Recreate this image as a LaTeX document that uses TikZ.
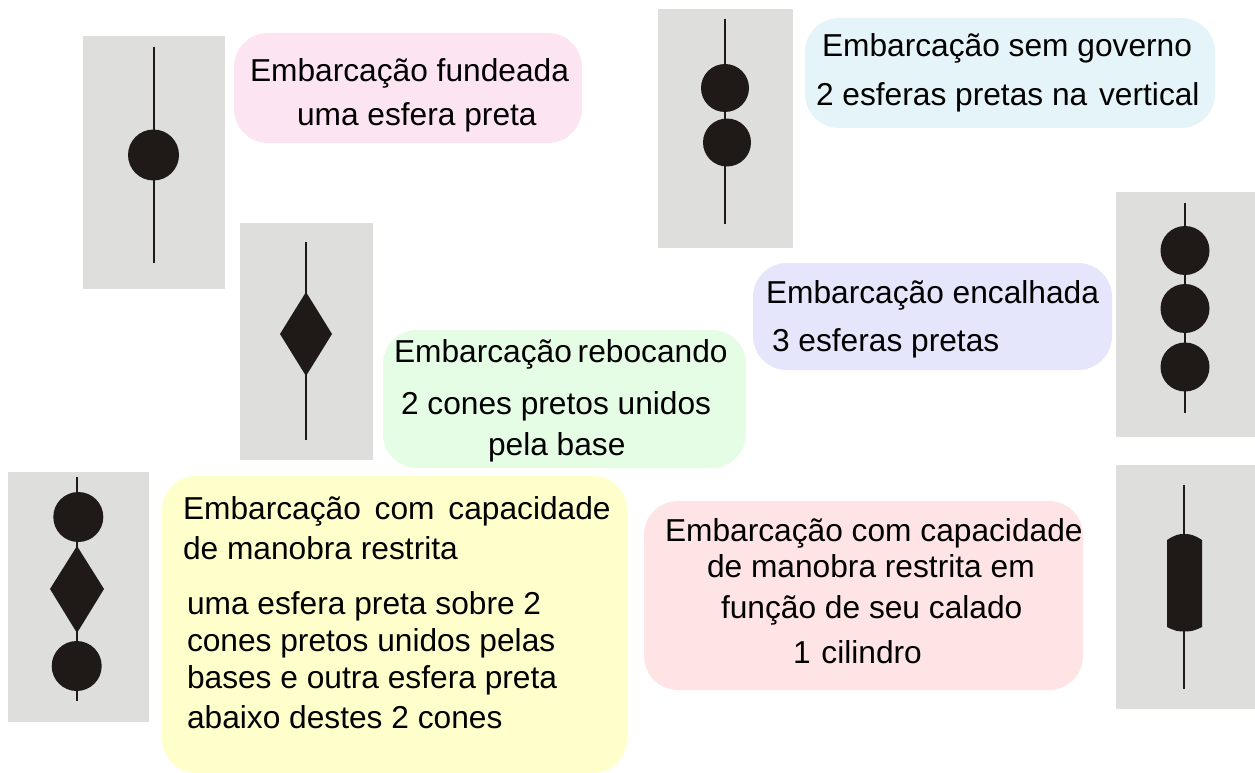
\documentclass[tikz,border=0pt]{standalone}
\usepackage{fontspec}
\setmainfont{Liberation Sans}
\definecolor{panelgray}{HTML}{DEDEDC}
\definecolor{ink}{HTML}{1F1A17}
\definecolor{bpink}{RGB}{253,228,242}
\definecolor{bcyan}{RGB}{228,244,249}
\definecolor{bviolet}{RGB}{229,229,251}
\definecolor{bgreen}{RGB}{229,252,229}
\definecolor{byellow}{RGB}{255,255,204}
\definecolor{brose}{RGB}{254,228,228}
\tikzset{
  x=1pt,y=-1pt,
  panel/.style={fill=panelgray,draw=none},
  bubble/.style={draw=none,rounded corners=34pt},
  mast/.style={draw=ink,line width=2pt},
  ballshape/.style={fill=ink,draw=none},
  txt/.style={anchor=base west,inner sep=0pt,outer sep=0pt,font=\fontsize{31.7}{34}\selectfont,text=black},
}
\begin{document}
\begin{tikzpicture}
\useasboundingbox (0,0) rectangle (1255,773);
% panels
\fill[panel] (83,36) rectangle (225,289);
\fill[panel] (658,9) rectangle (793,248);
\fill[panel] (240,223) rectangle (373,460);
\fill[panel] (1116,192) rectangle (1255,437);
\fill[panel] (8,472) rectangle (149,722);
\fill[panel] (1116,465) rectangle (1255,709);
% bubbles
\fill[bubble,fill=bpink] (234,33) rectangle (582,143);
\fill[bubble,fill=bcyan] (805,18) rectangle (1215,128);
\fill[bubble,fill=bviolet] (753,263) rectangle (1112,370);
\fill[bubble,fill=bgreen] (383,330) rectangle (746,468);
\fill[bubble,fill=byellow] (162,476) rectangle (627,773);
\fill[bubble,fill=brose] (644,501) rectangle (1083,690);
% symbol 1
\coordinate (a1) at (154,47); \coordinate (a2) at (154,263);
\draw[mast] (a1) -- (a2);
\fill[ballshape] (153.5,155) circle (25.5);
% symbol 2
\coordinate (b1) at (725,19); \coordinate (b2) at (725,224);
\draw[mast] (b1) -- (b2);
\fill[ballshape] (725,88) circle (24);
\fill[ballshape] (727,142.5) circle (24);
% symbol 3
\coordinate (c1) at (306,242); \coordinate (c2) at (306,440);
\draw[mast] (c1) -- (c2);
\fill[ballshape] (306,292) -- (332,334) -- (306,376) -- (280,334) -- cycle;
% symbol 4
\coordinate (d1) at (1185,203); \coordinate (d2) at (1185,413);
\draw[mast] (d1) -- (d2);
\fill[ballshape] (1185,250.5) circle (24.5);
\fill[ballshape] (1185,308.5) circle (24.5);
\fill[ballshape] (1185,367) circle (24.5);
% symbol 5
\coordinate (e1) at (77,477); \coordinate (e2) at (77,701);
\draw[mast] (e1) -- (e2);
\fill[ballshape] (78.3,517) circle (25);
\fill[ballshape] (77,546) -- (104,589) -- (77,633) -- (50,589) -- cycle;
\fill[ballshape] (76.7,666) circle (25);
% symbol 6
\coordinate (f1) at (1184,485); \coordinate (f2) at (1184,689);
\draw[mast] (f1) -- (f2);
\fill[ballshape] (1167,540) .. controls (1175,535) and (1178,534) .. (1184,534) .. controls (1191,534) and (1194,535) .. (1202,540) -- (1202,627) .. controls (1194,631) and (1191,631.5) .. (1184,631.5) .. controls (1178,631.5) and (1175,631) .. (1167,627) -- cycle;
% texts
\node[txt] (t1a) at (250,82) {Embarcação fundeada};
\node[txt] (t1b) at (297,126) {uma esfera preta};
\node[txt] (t2a) at (822,57) {Embarcação sem governo};
\node[txt] (t2b) at (816,106) {2 esferas pretas na\hspace{3pt} vertical};
\node[txt] (t3a) at (766,303) {Embarcação encalhada};
\node[txt] (t3b) at (772,351) {3 esferas pretas};
\node[txt] (t4a) at (394,362) {Embarcação\hspace{-3pt} rebocando};
\node[txt] (t4b) at (401,414) {2 cones pretos unidos};
\node[txt] (t4c) at (488,455) {pela base};
\node[txt] (t5a) at (183,519) {Embarcação\hspace{5pt} com\hspace{5pt} capacidade};
\node[txt] (t5b) at (183,559) {de manobra restrita};
\node[txt] (t5c) at (187,614) {uma esfera preta sobre 2};
\node[txt] (t5d) at (187,651) {cones pretos unidos pelas};
\node[txt] (t5e) at (187,688) {bases e outra esfera preta};
\node[txt] (t5f) at (187,728) {abaixo destes 2 cones};
\node[txt] (t6a) at (665,541) {Embarcação com capacidade};
\node[txt] (t6b) at (707,577) {de manobra restrita em};
\node[txt] (t6c) at (721,618) {função de seu calado};
\node[txt] (t6d) at (793,663) {1\hspace{2pt} cilindro};
\end{tikzpicture}
\end{document}
